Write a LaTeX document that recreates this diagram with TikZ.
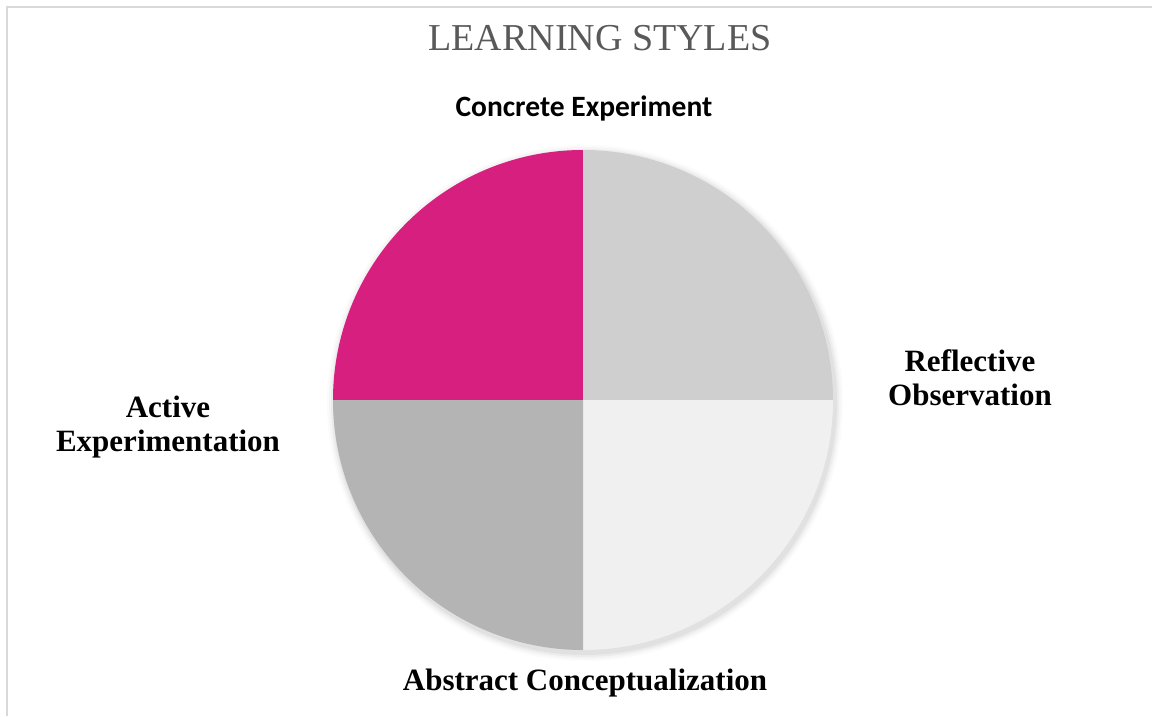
\documentclass[tikz,border=0pt]{standalone}
\usepackage{fontspec}
\setmainfont{Liberation Serif}
\newfontfamily\calib{Carlito}
\definecolor{magentaq}{HTML}{D71F7F}
\definecolor{grayTR}{HTML}{D0CFD0}
\definecolor{grayBR}{HTML}{F0F0F0}
\definecolor{grayBL}{HTML}{B4B4B4}
\definecolor{titlegray}{HTML}{595959}
\definecolor{framegray}{HTML}{D9D9D9}
\begin{document}
\begin{tikzpicture}[x=1pt,y=-1pt,
  lab/.style={font=\bfseries\fontsize{31}{34}\selectfont, align=center, text=black, inner sep=0pt},
  wedge/.style={draw=none}]
\useasboundingbox (0,0) rectangle (1152,716);
\fill[white] (0,0) rectangle (1152,716);
\draw[framegray, line width=2pt] (7,716) -- (7,7) -- (1152,7);
% title
\node[font=\fontsize{38}{40}\selectfont, text=titlegray, inner sep=0pt] (title) at (600,38) {LEARNING STYLES};
% shadow
\foreach \r/\o in {258/0.015,256/0.025,254/0.035,252/0.045}{
  \fill[black, opacity=\o] (585,403) circle[radius=\r];
}
\coordinate (c) at (583,400);
\fill[magentaq] (c) -- (333,400) arc[start angle=180, end angle=90, x radius=250, y radius=-250] -- cycle;
\fill[grayTR] (c) -- (583,150) arc[start angle=90, end angle=0, x radius=250, y radius=-250] -- cycle;
\fill[grayBR] (c) -- (833,400) arc[start angle=0, end angle=-90, x radius=250, y radius=-250] -- cycle;
\fill[grayBL] (c) -- (583,650) arc[start angle=-90, end angle=-180, x radius=250, y radius=-250] -- cycle;
% labels
\node[font=\calib\bfseries\fontsize{29.5}{32}\selectfont, inner sep=0pt] (ce) at (584,108) {Concrete Experiment};
\node[lab] (ro) at (970,378) {Reflective\\Observation};
\node[lab] (ae) at (168,427) {Active\\Experimentation};
\node[lab] (ac) at (585,683) {Abstract Conceptualization};
\end{tikzpicture}
\end{document}
